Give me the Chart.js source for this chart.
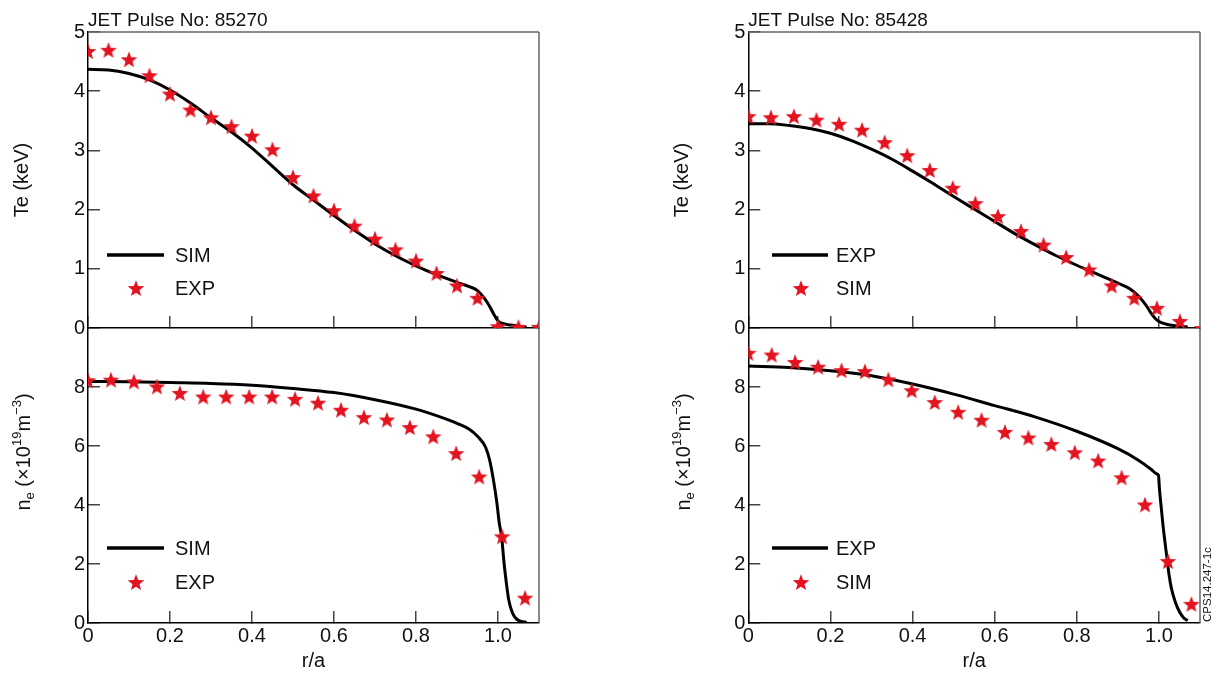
<!DOCTYPE html>
<html>
<head>
<meta charset="utf-8">
<title>JET Te / ne profiles</title>
<script src="https://cdn.jsdelivr.net/npm/chart.js@4.4.1/dist/chart.umd.min.js"></script>
<style>
  html, body { margin: 0; padding: 0; background: #fff; }
  #wrap { position: relative; width: 1220px; height: 675px; overflow: hidden; }
  #wrap canvas { position: absolute; left: 0; top: 0; }
</style>
</head>
<body>
<div id="wrap">
  <canvas id="ne85270" width="1220" height="675"></canvas>
  <canvas id="ne85428" width="1220" height="675"></canvas>
  <canvas id="te85270" width="1220" height="675"></canvas>
  <canvas id="te85428" width="1220" height="675"></canvas>
</div>
<script>
// --- pulse 85270, electron temperature (keV)
const te85270SimR = [0, 0.05, 0.1, 0.15, 0.2, 0.25, 0.3, 0.35, 0.4, 0.45, 0.5, 0.55, 0.6, 0.65, 0.7, 0.75, 0.8, 0.85, 0.9, 0.93, 0.95, 0.97, 0.98, 0.99, 1.0, 1.01, 1.03, 1.05, 1.07];
const te85270SimV = [4.37, 4.36, 4.30, 4.19, 4.02, 3.80, 3.55, 3.31, 3.04, 2.73, 2.42, 2.16, 1.90, 1.65, 1.42, 1.22, 1.05, 0.90, 0.77, 0.70, 0.63, 0.47, 0.36, 0.23, 0.12, 0.08, 0.05, 0.03, 0.01];
const te85270ExpR = [0, 0.05, 0.1, 0.15, 0.2, 0.25, 0.3, 0.35, 0.4, 0.45, 0.5, 0.55, 0.6, 0.65, 0.7, 0.75, 0.8, 0.85, 0.9, 0.95, 1.0, 1.05, 1.1];
const te85270ExpV = [4.68, 4.70, 4.54, 4.27, 3.96, 3.69, 3.56, 3.41, 3.25, 3.02, 2.55, 2.24, 1.99, 1.73, 1.51, 1.33, 1.14, 0.93, 0.72, 0.51, 0.03, 0.02, 0.02];

// --- pulse 85270, electron density (1e19 m^-3)
const ne85270SimR = [0, 0.1, 0.2, 0.3, 0.4, 0.5, 0.6, 0.7, 0.8, 0.85, 0.9, 0.93, 0.95, 0.97, 0.98, 0.99, 0.997, 1.003, 1.009, 1.015, 1.02, 1.026, 1.035, 1.045, 1.055, 1.07];
const ne85270SimV = [8.19, 8.18, 8.15, 8.12, 8.06, 7.95, 7.81, 7.57, 7.25, 7.03, 6.77, 6.57, 6.33, 5.95, 5.50, 4.75, 4.10, 3.40, 2.90, 2.00, 1.40, 0.80, 0.35, 0.14, 0.06, 0.02];
const ne85270ExpR = [0, 0.056, 0.112, 0.168, 0.224, 0.281, 0.337, 0.393, 0.449, 0.505, 0.561, 0.617, 0.673, 0.729, 0.785, 0.842, 0.898, 0.954, 1.010, 1.066];
const ne85270ExpV = [8.23, 8.25, 8.19, 8.02, 7.80, 7.68, 7.68, 7.68, 7.68, 7.60, 7.47, 7.23, 6.98, 6.90, 6.64, 6.33, 5.76, 4.97, 2.94, 0.86];

// --- pulse 85428, electron temperature (line = EXP, stars = SIM)
const te85428ExpR = [0, 0.05, 0.1, 0.15, 0.2, 0.25, 0.3, 0.35, 0.4, 0.45, 0.5, 0.55, 0.6, 0.65, 0.7, 0.75, 0.8, 0.85, 0.9, 0.93, 0.95, 0.97, 0.98, 0.99, 1.0, 1.02, 1.05, 1.07];
const te85428ExpV = [3.45, 3.45, 3.42, 3.37, 3.29, 3.17, 3.02, 2.85, 2.65, 2.44, 2.22, 2.01, 1.80, 1.59, 1.40, 1.22, 1.06, 0.91, 0.76, 0.66, 0.54, 0.37, 0.26, 0.17, 0.11, 0.06, 0.03, 0.02];
const te85428SimR = [0, 0.055, 0.111, 0.166, 0.221, 0.277, 0.332, 0.387, 0.442, 0.498, 0.553, 0.608, 0.664, 0.719, 0.774, 0.830, 0.885, 0.940, 0.995, 1.051, 1.106];
const te85428SimV = [3.58, 3.56, 3.58, 3.52, 3.45, 3.35, 3.14, 2.92, 2.67, 2.37, 2.11, 1.89, 1.64, 1.41, 1.20, 0.99, 0.72, 0.51, 0.34, 0.12, 0.0];

// --- pulse 85428, electron density
const ne85428ExpR = [0, 0.1, 0.2, 0.3, 0.4, 0.5, 0.6, 0.7, 0.8, 0.9, 0.95, 0.98, 0.995, 0.999, 1.001, 1.005, 1.01, 1.02, 1.025, 1.03, 1.04, 1.05, 1.06, 1.07];
const ne85428ExpV = [8.71, 8.66, 8.55, 8.38, 8.10, 7.76, 7.37, 6.98, 6.50, 5.91, 5.52, 5.22, 5.05, 5.00, 4.60, 4.00, 3.30, 2.15, 1.60, 1.20, 0.70, 0.38, 0.18, 0.08];
const ne85428SimR = [0, 0.057, 0.114, 0.170, 0.227, 0.284, 0.341, 0.398, 0.454, 0.511, 0.568, 0.625, 0.682, 0.738, 0.795, 0.852, 0.909, 0.966, 1.022, 1.079];
const ne85428SimV = [9.16, 9.10, 8.85, 8.69, 8.57, 8.54, 8.26, 7.89, 7.49, 7.16, 6.89, 6.48, 6.29, 6.07, 5.79, 5.51, 4.94, 4.02, 2.10, 0.65];

// axis ticks
const xMax = 1.1;
const xStep = 0.2;
const teMax = 5;
const teStep = 1;
const neMax = 10;
const neStep = 2;

const FONT = '"Liberation Sans", Arial, Helvetica, sans-serif';
const RED = '#e3131f';
Chart.defaults.font.family = FONT;
Chart.defaults.font.size = 20;
Chart.defaults.color = '#111';

// filled five-point star used as marker
function makeStar(r, color) {
  const s = Math.ceil(r * 2 + 2);
  const c = document.createElement('canvas');
  c.width = s; c.height = s;
  const g = c.getContext('2d');
  g.fillStyle = color;
  g.beginPath();
  for (let i = 0; i < 10; i++) {
    const a = -Math.PI / 2 + i * Math.PI / 5;
    const rr = i % 2 ? r * 0.42 : r;
    g.lineTo(s / 2 + rr * Math.cos(a), s / 2 + 1 + rr * Math.sin(a));
  }
  g.closePath();
  g.fill();
  return c;
}
const STAR = makeStar(8.7, RED);

const pts = (xs, ys) => xs.map((x, i) => ({ x: x, y: ys[i] }));

// frame, title, inset legend, rich axis title
const decor = {
  id: 'decor',
  afterDraw(chart, args, o) {
    const ctx = chart.ctx, a = chart.chartArea;
    ctx.save();
    ctx.strokeStyle = '#666';
    ctx.lineWidth = 1.5;
    ctx.beginPath();
    if (o.frame.includes('top')) { ctx.moveTo(a.left, a.top); ctx.lineTo(a.right, a.top); }
    if (o.frame.includes('right')) { ctx.moveTo(a.right, a.top); ctx.lineTo(a.right, a.bottom); }
    ctx.stroke();

    ctx.fillStyle = '#111';
    if (o.title) {
      ctx.font = '19px ' + FONT;
      ctx.textAlign = 'left';
      ctx.textBaseline = 'alphabetic';
      ctx.fillText(o.title, a.left, a.top - 6);
    }

    // legend inside the plot
    const lg = o.legend;
    const lineDs = chart.data.datasets.find(d => d.showLine);
    const starDs = chart.data.datasets.find(d => !d.showLine);
    ctx.strokeStyle = lineDs.borderColor;
    ctx.lineWidth = 3.5;
    ctx.beginPath();
    ctx.moveTo(lg.line[0], lg.rows[0]);
    ctx.lineTo(lg.line[1], lg.rows[0]);
    ctx.stroke();
    ctx.drawImage(STAR, lg.mark - STAR.width / 2, lg.rows[1] - STAR.height / 2);
    ctx.font = '20px ' + FONT;
    ctx.textAlign = 'left';
    ctx.textBaseline = 'middle';
    ctx.fillText(lineDs.label, lg.text, lg.rows[0] + 1);
    ctx.fillText(starDs.label, lg.text, lg.rows[1] + 1);

    // n_e (x10^19 m^-3) with sub/superscripts
    if (o.yTitle) {
      const t = o.yTitle;
      ctx.translate(t.x, t.y);
      ctx.rotate(-Math.PI / 2);
      ctx.textBaseline = 'alphabetic';
      ctx.textAlign = 'left';
      const sized = t.parts.map(p => {
        const size = p.sub || p.sup ? 13 : 20;
        ctx.font = size + 'px ' + FONT;
        return { p: p, size: size, w: ctx.measureText(p.t).width };
      });
      let x = -sized.reduce((s, q) => s + q.w, 0) / 2;
      sized.forEach(q => {
        ctx.font = q.size + 'px ' + FONT;
        const dy = q.p.sub ? 4 : q.p.sup ? -9 : 0;
        ctx.fillText(q.p.t, x, dy);
        x += q.w;
      });
      ctx.setTransform(1, 0, 0, 1, 0, 0);
    }

    if (o.note) {
      ctx.translate(o.note.x, o.note.y);
      ctx.rotate(-Math.PI / 2);
      ctx.font = '11.5px ' + FONT;
      ctx.textAlign = 'left';
      ctx.textBaseline = 'alphabetic';
      ctx.fillText(o.note.text, 0, 0);
      ctx.setTransform(1, 0, 0, 1, 0, 0);
    }
    ctx.restore();
  }
};

const NE_TITLE = [
  { t: 'n' }, { t: 'e', sub: true }, { t: ' (\u00d710' }, { t: '19', sup: true },
  { t: 'm' }, { t: '\u22123', sup: true }, { t: ')' }
];

function makePanel(id, p) {
  const top = p.kind === 'te';
  const area = top ? { top: 32, bottom: 328 } : { top: 328, bottom: 623 };
  return new Chart(document.getElementById(id), {
    type: 'scatter',
    data: {
      datasets: [
        {
          label: p.lineLabel, data: pts(p.lineR, p.lineV), showLine: true,
          borderColor: '#000', borderWidth: 3, pointRadius: 0,
          cubicInterpolationMode: 'monotone', clip: 0, order: 2
        },
        {
          label: p.starLabel, data: pts(p.starR, p.starV), showLine: false,
          pointStyle: STAR, pointRadius: 8, clip: 0, order: 1
        }
      ]
    },
    options: {
      responsive: false,
      animation: false,
      events: [],
      layout: {
        padding: { left: p.left - 80, right: 1220 - p.right, top: area.top, bottom: top ? 675 - area.bottom : 0 }
      },
      plugins: {
        legend: { display: false },
        tooltip: { enabled: false },
        decor: {
          frame: top ? ['top', 'right'] : ['right'],
          title: top ? p.title : null,
          legend: p.legend,
          yTitle: top ? null : { x: p.left - 58.5, y: 452, parts: NE_TITLE },
          note: p.note || null
        }
      },
      scales: {
        x: {
          type: 'linear', min: 0, max: xMax,
          afterFit: s => { s.height = top ? 0 : 52; },
          border: { color: '#000', width: 1.5 },
          grid: { drawOnChartArea: false, tickLength: -12, color: '#444', lineWidth: 1.5 },
          ticks: {
            display: !top, stepSize: xStep, includeBounds: false, padding: 13, maxRotation: 0,
            callback: v => v === 0 ? '0' : v.toFixed(1)
          },
          title: { display: !top, text: 'r/a', padding: { top: 0, bottom: 2 } }
        },
        y: {
          type: 'linear', min: 0, max: top ? teMax : neMax,
          afterFit: s => { s.width = 80; },
          border: { color: '#000', width: 1.5 },
          grid: {
            drawOnChartArea: false, tickLength: -12, lineWidth: 1.5,
            color: c => (c.tick && c.tick.value === neMax && !top) ? 'rgba(0,0,0,0)' : '#444'
          },
          ticks: {
            stepSize: top ? teStep : neStep, padding: 15,
            callback: v => (!top && v === neMax) ? '' : String(v)
          },
          title: { display: top, text: 'Te (keV)', padding: { top: 2, bottom: 0 } }
        }
      }
    },
    plugins: [decor]
  });
}

const LEFT = { left: 88, right: 539 };
const RIGHT = { left: 748.3, right: 1200 };

makePanel('te85270', {
  kind: 'te', left: LEFT.left, right: LEFT.right, title: 'JET Pulse No: 85270',
  lineLabel: 'SIM', lineR: te85270SimR, lineV: te85270SimV,
  starLabel: 'EXP', starR: te85270ExpR, starV: te85270ExpV,
  legend: { line: [107, 164], mark: 136, text: 175, rows: [255, 288] }
});
makePanel('ne85270', {
  kind: 'ne', left: LEFT.left, right: LEFT.right,
  lineLabel: 'SIM', lineR: ne85270SimR, lineV: ne85270SimV,
  starLabel: 'EXP', starR: ne85270ExpR, starV: ne85270ExpV,
  legend: { line: [107, 164], mark: 136, text: 175, rows: [548, 582] }
});
makePanel('te85428', {
  kind: 'te', left: RIGHT.left, right: RIGHT.right, title: 'JET Pulse No: 85428',
  lineLabel: 'EXP', lineR: te85428ExpR, lineV: te85428ExpV,
  starLabel: 'SIM', starR: te85428SimR, starV: te85428SimV,
  legend: { line: [772, 828], mark: 801, text: 836, rows: [255, 288] }
});
makePanel('ne85428', {
  kind: 'ne', left: RIGHT.left, right: RIGHT.right,
  lineLabel: 'EXP', lineR: ne85428ExpR, lineV: ne85428ExpV,
  starLabel: 'SIM', starR: ne85428SimR, starV: ne85428SimV,
  legend: { line: [772, 828], mark: 801, text: 836, rows: [548, 582] },
  note: { text: 'CPS14.247-1c', x: 1211, y: 622 }
});
</script>
</body>
</html>
